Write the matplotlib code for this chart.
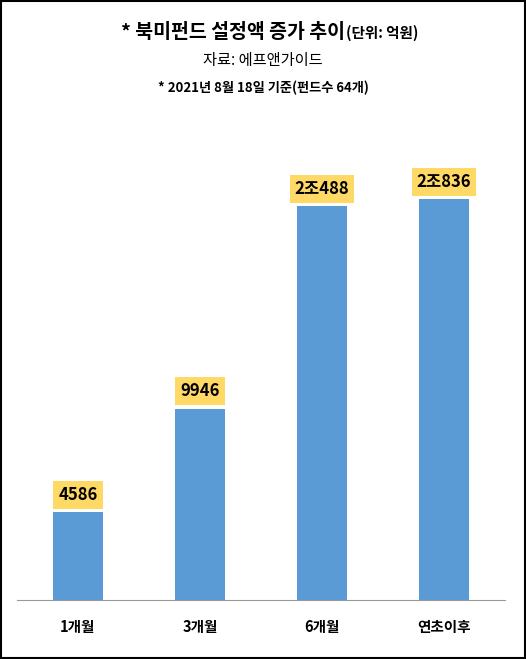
import matplotlib.pyplot as plt
from matplotlib.patches import Rectangle

plt.rcParams['font.family'] = ['Noto Sans CJK KR', 'DejaVu Sans']

periods = ['1개월', '3개월', '6개월', '연초이후']
amounts = [4586, 9946, 20488, 20836]
labels = ['4586', '9946', '2조488', '2조836']

fig = plt.figure(figsize=(5.26, 6.59), dpi=100)
ax = fig.add_axes([0.032, 0.0895, 0.928, 0.668])
ax.bar(range(len(periods)), amounts, width=0.41, color='#5B9BD5')
ax.set_xlim(-0.5, 3.5)
ax.set_ylim(0, 22900)
for i, (v, t) in enumerate(zip(amounts, labels)):
    ax.annotate(t, (i, v), xytext=(0, 6), textcoords='offset points',
                ha='center', va='bottom', fontsize=12, fontweight='bold',
                bbox=dict(boxstyle='square,pad=0.3', fc='#FFD966', ec='none'))
ax.set_xticks(range(len(periods)))
ax.set_xticklabels(periods, fontsize=10.5, fontweight='bold')
ax.tick_params(axis='x', length=0, pad=14)
ax.set_yticks([])
for s in ['top', 'left', 'right']:
    ax.spines[s].set_visible(False)
ax.spines['bottom'].set_color('#999999')

fig.text(345 / 526, 1 - 32 / 659, '* 북미펀드 설정액 증가 추이', ha='right', va='center',
         fontsize=14, fontweight='bold')
fig.text(346 / 526, 1 - 33 / 659, '(단위: 억원)', ha='left', va='center',
         fontsize=10.5, fontweight='bold')
fig.text(0.5, 1 - 60 / 659, '자료: 에프앤가이드', ha='center', va='center', fontsize=11)
fig.text(0.5, 1 - 88 / 659, '* 2021년 8월 18일 기준(펀드수 64개)', ha='center', va='center',
         fontsize=9.5, fontweight='bold')

fig.patches.append(Rectangle((0.002, 0.002), 0.996, 0.996, transform=fig.transFigure,
                             fill=False, ec='black', lw=1.5))
fig.savefig('out.png', dpi=100)
